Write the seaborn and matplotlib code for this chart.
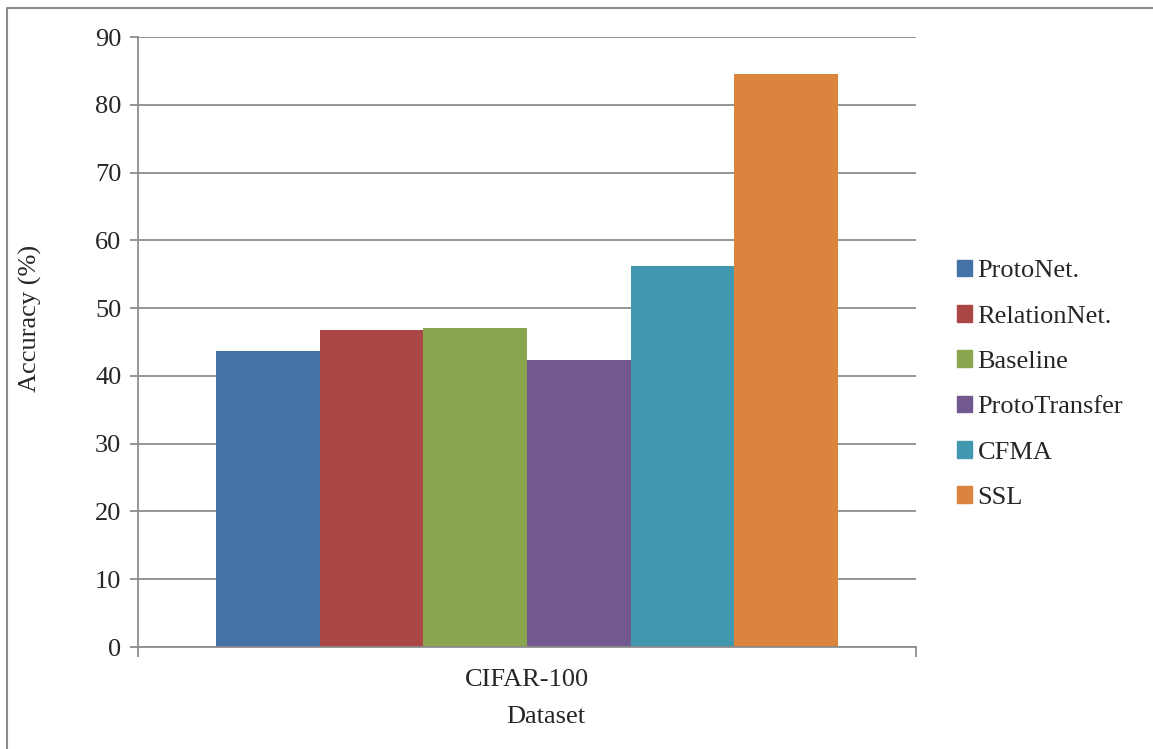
import matplotlib
matplotlib.use("Agg")
import matplotlib.pyplot as plt
import matplotlib.patches as mpatches
from matplotlib.lines import Line2D
import seaborn as sns
import pandas as pd

# values
datasets = ["CIFAR-100"]
methods = ["ProtoNet.", "RelationNet.", "Baseline", "ProtoTransfer", "CFMA", "SSL"]
accuracy = [43.7, 46.7, 47.0, 42.4, 56.2, 84.5]
colors = ["#4572A7", "#AA4643", "#89A54E", "#71588F", "#4198AF", "#DB843D"]
yticks = [0, 10, 20, 30, 40, 50, 60, 70, 80, 90]

df = pd.DataFrame({
    "Dataset": datasets * len(methods),
    "Method": methods,
    "Accuracy": accuracy,
})

sns.set_style("white")
plt.rcParams["font.family"] = ["Liberation Serif", "DejaVu Serif"]

W, H = 1153, 749
fig = plt.figure(figsize=(W / 100, H / 100), dpi=100)
ax = fig.add_axes([138 / W, 1 - 647 / H, (916 - 138) / W, (647 - 37) / H])

# outer chart border (only left and top edges are visible in the crop)
fig.lines.append(Line2D([6.5 / W, 6.5 / W, 1], [0, 1 - 7.5 / H, 1 - 7.5 / H],
                        transform=fig.transFigure, color="#8c8c8c", lw=1.5))

sns.barplot(data=df, x="Dataset", y="Accuracy", hue="Method",
            palette=colors, width=0.8, saturation=1, ax=ax, legend=False)
for p in ax.patches:
    p.set_edgecolor("none")

ax.set_xlim(-0.5, 0.5)
ax.set_ylim(0, 90)
ax.set_yticks(yticks)
ax.yaxis.grid(True, color="#8c8c8c", lw=1.3)
ax.set_axisbelow(True)

for s in ["top", "right"]:
    ax.spines[s].set_visible(False)
for s in ["left", "bottom"]:
    ax.spines[s].set_color("#8c8c8c")
    ax.spines[s].set_linewidth(1.3)

ax.tick_params(axis="y", left=True, length=6, width=1.3, color="#8c8c8c",
               labelsize=19, pad=6)
ax.tick_params(axis="x", bottom=False, labelsize=19, pad=12)
# edge tick marks on category axis
ax.set_xticks([-0.5, 0.5], minor=True)
ax.tick_params(axis="x", which="minor", bottom=True, length=7, width=1.3,
               color="#8c8c8c")

ax.set_xlabel("Dataset", fontsize=19)
ax.set_ylabel("Accuracy (%)", fontsize=19)
ax.xaxis.set_label_coords((546 - 138) / (916 - 138), -(706 - 647) / (647 - 37))
ax.yaxis.set_label_coords(-(138 - 42) / (916 - 138), (647 - 318) / (647 - 37))

handles = [mpatches.Patch(color=c, label=m) for c, m in zip(colors, methods)]
fig.legend(handles=handles, loc="upper left",
           bbox_to_anchor=(946 / W, 1 - 249 / H), frameon=False,
           fontsize=19, handlelength=0.6, handleheight=0.6,
           handletextpad=0.2, labelspacing=0.86, borderaxespad=0)

fig.savefig("out.png", dpi=100, facecolor="white")
